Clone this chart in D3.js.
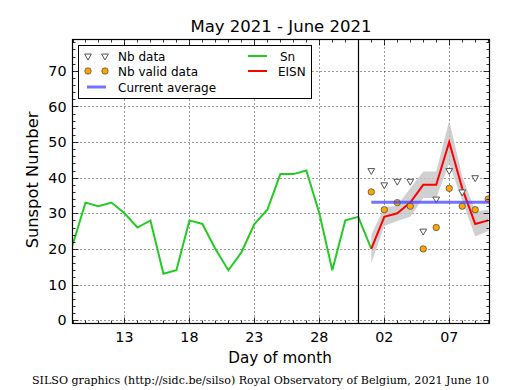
<!DOCTYPE html>
<html><head><meta charset="utf-8">
<script src="https://cdn.jsdelivr.net/npm/d3@7"></script>
<style>body{margin:0;background:#fff}svg{display:block}text{font-family:"DejaVu Sans",sans-serif}</style>
</head><body>
<script>
// Days numbered from May 1 (June 1 = 32)
const snDays = [9,10,11,12,13,14,15,16,17,18,19,20,21,22,23,24,25,26,27,28,29,30,31,32];
const snValues = [21,33,32,33,30,26,28,13,14,28,27,20,14,19,27,31,41,41,42,30,14,28,29,20];
const eisnDays = [32,33,34,35,36,37,38,39,40,41];
const eisnValues = [20,29,30,33,38,38,50,37,27,28];
const eisnErr = [4,2.6,2.2,4,3.7,3.7,6,3.5,3.5,3];
const nbDataDays = [32,33,34,35,36,37,38,39,40];
const nbDataValues = [42,38,39,39,25,34,42,36,40];
const nbValidDays = [32,33,34,35,36,37,38,39,40,41];
const nbValidValues = [36,31,33,32,20,26,37,32,31,34];
const currentAverage = 33.1;
const avgRange = [32,41];
const xTickDays = [13,18,23,28,33,38];
const xTickLabels = ["13","18","23","28","02","07"];
const yTicks = [0,10,20,30,40,50,60,70];
const monthBoundary = 31;

const W=515,H=390;
const m={l:72.5,r:489.5,t:39.5,b:323.5};
const svg=d3.select("body").append("svg").attr("width",W).attr("height",H);
const x=d3.scaleLinear().domain([9,41.1]).range([m.l,m.r]);
const y=d3.scaleLinear().domain([-0.95,78.8]).range([m.b,m.t]);

svg.append("defs").append("clipPath").attr("id","clip").append("rect")
  .attr("x",m.l).attr("y",m.t).attr("width",m.r-m.l).attr("height",m.b-m.t);

// grid
const grid=svg.append("g").attr("stroke","#000").attr("stroke-width",0.8).attr("stroke-dasharray","1,3");
grid.selectAll("line.gx").data(xTickDays).join("line")
  .attr("x1",d=>Math.round(x(d))+0.5).attr("x2",d=>Math.round(x(d))+0.5).attr("y1",m.t).attr("y2",m.b);
grid.selectAll("line.gy").data(yTicks).join("line")
  .attr("y1",d=>Math.round(y(d))+0.5).attr("y2",d=>Math.round(y(d))+0.5).attr("x1",m.l).attr("x2",m.r);

const plot=svg.append("g").attr("clip-path","url(#clip)");

// band
const bandData=eisnDays.map((d,i)=>({d,v:eisnValues[i],e:eisnErr[i]}));
plot.append("path").datum(bandData)
  .attr("fill","#c4c4c4").attr("fill-opacity",0.8)
  .attr("d",d3.area().x(o=>x(o.d)).y0(o=>y(o.v-o.e)).y1(o=>y(o.v+o.e)));

// Sn
plot.append("path").datum(snDays.map((d,i)=>[d,snValues[i]]))
  .attr("fill","none").attr("stroke","#22cc22").attr("stroke-width",2)
  .attr("d",d3.line().x(p=>x(p[0])).y(p=>y(p[1])));
// EISN
plot.append("path").datum(eisnDays.map((d,i)=>[d,eisnValues[i]]))
  .attr("fill","none").attr("stroke","#ff0000").attr("stroke-width",2)
  .attr("d",d3.line().x(p=>x(p[0])).y(p=>y(p[1])));

// triangles
const tri=d3.symbol().type(d3.symbolTriangle).size(20);
plot.selectAll("path.tri").data(nbDataDays.map((d,i)=>[d,nbDataValues[i]])).join("path")
  .attr("d",tri).attr("transform",p=>`translate(${x(p[0])},${y(p[1])}) rotate(180)`)
  .attr("fill","#fff").attr("stroke","#555").attr("stroke-width",1);
// orange dots
plot.selectAll("circle.dot").data(nbValidDays.map((d,i)=>[d,nbValidValues[i]])).join("circle")
  .attr("cx",p=>x(p[0])).attr("cy",p=>y(p[1])).attr("r",3.2)
  .attr("fill","#ffa500").attr("stroke","#444").attr("stroke-width",0.7);
// current average
plot.append("line").attr("x1",x(avgRange[0])).attr("x2",x(avgRange[1])+5)
  .attr("y1",y(currentAverage)).attr("y2",y(currentAverage))
  .attr("stroke","#4444ff").attr("stroke-opacity",0.75).attr("stroke-width",3);

// month boundary
svg.append("line").attr("x1",Math.round(x(monthBoundary))+0.5).attr("x2",Math.round(x(monthBoundary))+0.5)
  .attr("y1",m.t).attr("y2",m.b).attr("stroke","#000").attr("stroke-width",1.2);

// ticks inward
const tk=svg.append("g").attr("stroke","#000").attr("stroke-width",0.8);
d3.range(9,42).forEach(d=>{
  const X=Math.round(x(d))+0.5, maj=xTickDays.includes(d), L=maj?6:3;
  tk.append("line").attr("x1",X).attr("x2",X).attr("y1",m.b).attr("y2",m.b-L);
  tk.append("line").attr("x1",X).attr("x2",X).attr("y1",m.t).attr("y2",m.t+L);
});
d3.range(0,79,2).forEach(v=>{
  const Y=Math.round(y(v))+0.5, maj=v%10===0, L=maj?6:3;
  tk.append("line").attr("y1",Y).attr("y2",Y).attr("x1",m.l).attr("x2",m.l+L);
  tk.append("line").attr("y1",Y).attr("y2",Y).attr("x1",m.r).attr("x2",m.r-L);
});
svg.append("rect").attr("x",m.l).attr("y",m.t).attr("width",m.r-m.l).attr("height",m.b-m.t)
  .attr("fill","none").attr("stroke","#000").attr("stroke-width",1.2);

// tick labels
svg.selectAll("text.xt").data(xTickDays).join("text")
  .attr("x",d=>x(d)).attr("y",341.5).attr("text-anchor","middle").attr("font-size",14.3)
  .text((d,i)=>xTickLabels[i]);
svg.selectAll("text.yt").data(yTicks).join("text")
  .attr("x",66.5).attr("y",d=>y(d)+5.2).attr("text-anchor","end").attr("font-size",14.3)
  .text(d=>d);

// titles
svg.append("text").attr("x",281).attr("y",32).attr("text-anchor","middle").attr("font-size",16.5).text("May 2021 - June 2021");
svg.append("text").attr("x",280).attr("y",363).attr("text-anchor","middle").attr("font-size",15.2).text("Day of month");
svg.append("text").attr("transform","translate(37.5,180) rotate(-90)").attr("text-anchor","middle").attr("font-size",16.3).text("Sunspot Number");
svg.append("text").attr("x",260.5).attr("y",384).attr("text-anchor","middle").attr("font-size",10.8)
  .attr("textLength",457).attr("lengthAdjust","spacingAndGlyphs")
  .style("font-family","'DejaVu Serif',serif").text("SILSO graphics (http://sidc.be/silso) Royal Observatory of Belgium, 2021 June 10");

// legend
const lg=svg.append("g");
lg.append("rect").attr("x",78.5).attr("y",45.5).attr("width",233).attr("height",53).attr("fill","#fff").attr("stroke","#000").attr("stroke-width",1);
[88,105].forEach(X=>{
  lg.append("path").attr("d",tri).attr("transform",`translate(${X},56) rotate(180)`).attr("fill","#fff").attr("stroke","#555");
  lg.append("circle").attr("cx",X).attr("cy",71).attr("r",3.2).attr("fill","#ffa500").attr("stroke","#444").attr("stroke-width",0.7);
});
lg.append("line").attr("x1",87).attr("x2",106).attr("y1",87).attr("y2",87).attr("stroke","#4444ff").attr("stroke-opacity",0.75).attr("stroke-width",3);
lg.append("line").attr("x1",248).attr("x2",267).attr("y1",56).attr("y2",56).attr("stroke","#22cc22").attr("stroke-width",2);
lg.append("line").attr("x1",248).attr("x2",267).attr("y1",71).attr("y2",71).attr("stroke","#ff0000").attr("stroke-width",2);
const lt=[["Nb data",118,60.5],["Nb valid data",118,75.5],["Current average",118,91.5],["Sn",280,60.5],["EISN",278,75.5]];
lt.forEach(t=>lg.append("text").attr("x",t[1]).attr("y",t[2]).attr("font-size",12).text(t[0]));
</script>
</body></html>
